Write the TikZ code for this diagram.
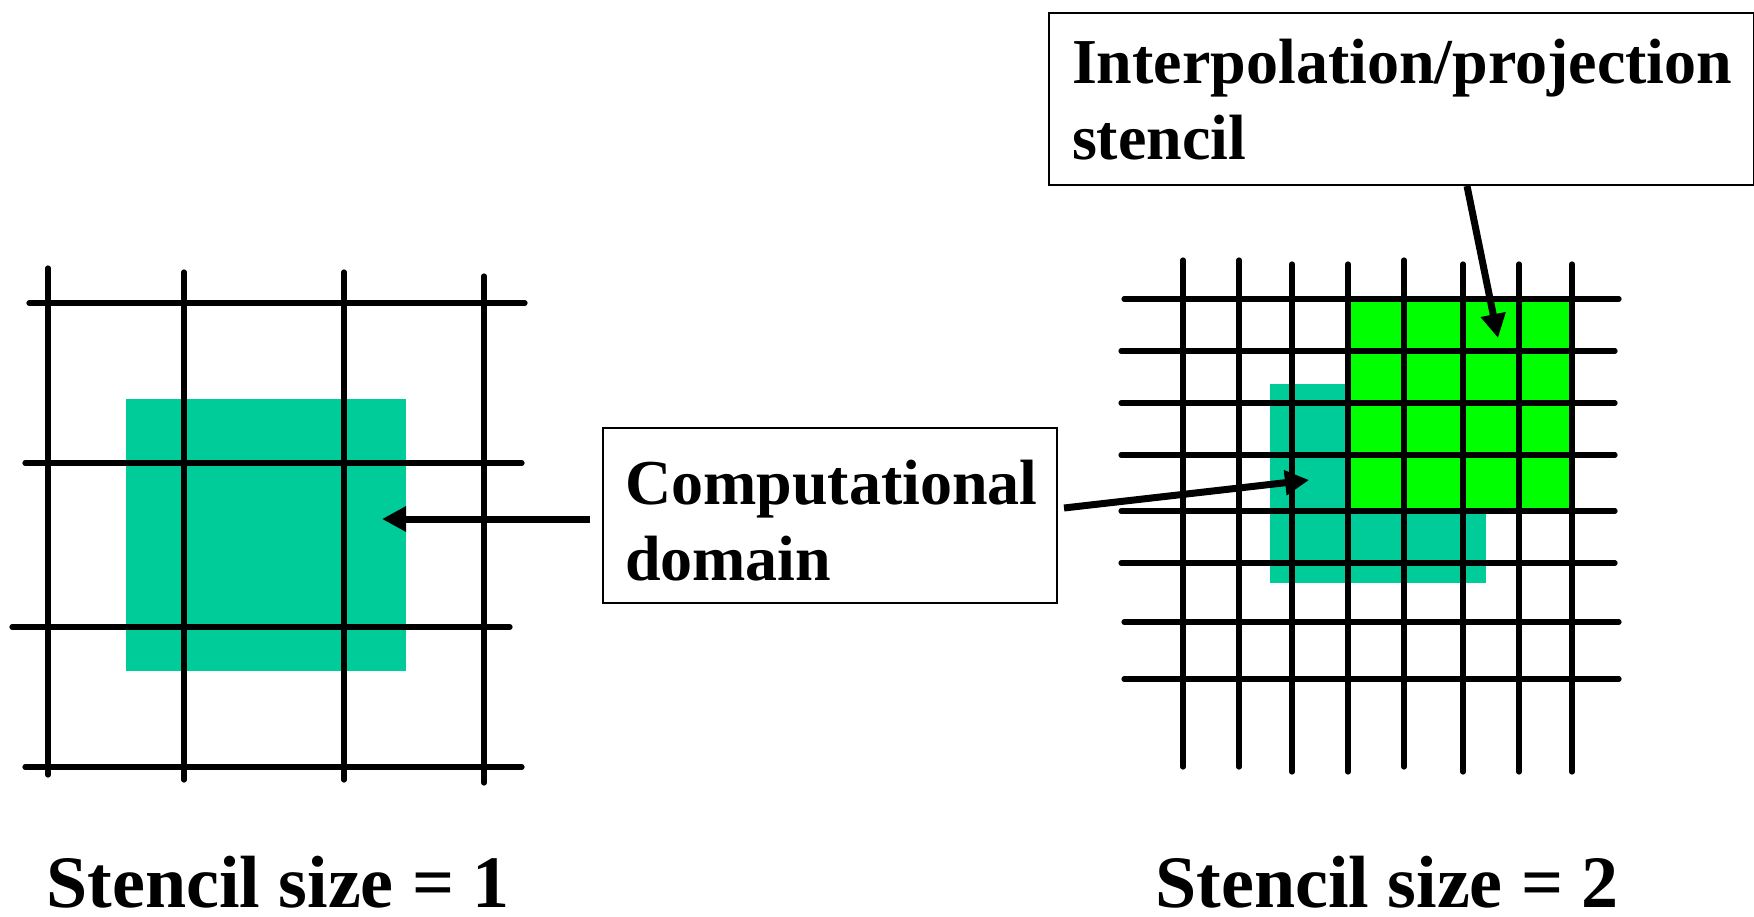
\documentclass[tikz,border=0pt]{standalone}
\usepackage{fontspec}
\setmainfont{Liberation Serif}
\usetikzlibrary{arrows.meta}
\definecolor{domainteal}{RGB}{0,204,153}
\definecolor{stencilgreen}{RGB}{0,255,0}
\begin{document}
\begin{tikzpicture}[x=0.5pt,y=-0.5pt,
  gridline/.style={line width=2.6pt,line cap=round},
  pointer/.style={line width=3.5pt,-{Triangle[length=12pt,width=12pt]}},
  labelbox/.style={draw,line width=1pt,fill=white,anchor=north west,
    inner ysep=0pt,align=left,font=\bfseries\fontsize{32}{38}\selectfont},
  caption/.style={anchor=base west,inner sep=0pt,
    font=\bfseries\fontsize{37}{44}\selectfont}]
\useasboundingbox (0,0) rectangle (1754,916);

% coarse grid: stencil size 1
\fill[domainteal] (126,399) rectangle (406,671);
\foreach \y/\a/\b in {303/29/525, 463/25/522, 627/12/510, 767/25/522}
  \draw[gridline] (\a,\y) -- (\b,\y);
\foreach \x/\a/\b in {48/268/775, 184/272/780, 344/272/780, 484/276/783}
  \draw[gridline] (\x,\a) -- (\x,\b);

% fine grid: stencil size 2
\fill[domainteal] (1270,384) rectangle (1486,583);
\fill[stencilgreen] (1348,299) rectangle (1572,511);
\foreach \y/\a/\b in {299/1124/1619, 351/1121/1615, 403/1121/1615, 455/1121/1615,
                      511/1121/1615, 563/1121/1615, 622/1124/1619, 679/1124/1619}
  \draw[gridline] (\a,\y) -- (\b,\y);
\foreach \x/\a/\b in {1183/260/767, 1239/260/767, 1292/264/772, 1348/264/772,
                      1404/260/767, 1463/264/772, 1519/264/772, 1572/264/772}
  \draw[gridline] (\x,\a) -- (\x,\b);

% labels
\node[labelbox,inner xsep=11pt,text width=205pt] (cd) at (602,427)
  {\rule{0pt}{38pt}Computational\\domain\rule[-11.5pt]{0pt}{11.5pt}};
\node[labelbox,inner xsep=11.5pt,text width=329.5pt] (ip) at (1048,12)
  {\rule{0pt}{35pt}Interpolation/projection\\stencil\rule[-13pt]{0pt}{13pt}};

% pointers
\coordinate (tipA) at (382,519);
\coordinate (tipB) at (1309,480);
\coordinate (tipC) at (1498,338);
\coordinate (cdW) at ([xshift=-6pt]cd.west);
\draw[pointer] (cdW |- tipA) -- (tipA);
\draw[pointer] ([xshift=3pt,yshift=3.75pt]cd.east) -- (tipB);
\draw[pointer] ([xshift=32.75pt]ip.south) -- (tipC);

% captions
\node[caption] (cap1) at (46,907) {Stencil size = 1};
\node[caption] (cap2) at (1155,907) {Stencil size = 2};
\end{tikzpicture}
\end{document}
